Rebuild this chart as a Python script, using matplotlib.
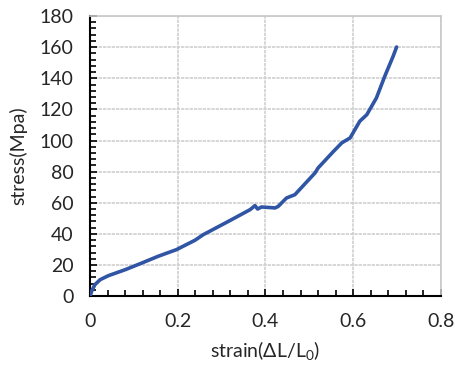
import matplotlib
matplotlib.use("Agg")
import matplotlib.pyplot as plt
from matplotlib.ticker import MultipleLocator

strain = [0.0, 0.004, 0.011, 0.023, 0.042, 0.08, 0.118, 0.155, 0.197, 0.239, 0.258, 0.315,
          0.365, 0.376, 0.382, 0.391, 0.422, 0.429, 0.448, 0.467, 0.513, 0.520,
          0.555, 0.574, 0.593, 0.615, 0.631, 0.653, 0.672, 0.691, 0.699]
stress = [0.0, 3.5, 7.4, 10.6, 13.2, 17.0, 21.3, 25.6, 29.9, 35.9, 39.5, 48.0,
          55.6, 58.2, 56.0, 57.3, 56.7, 57.7, 63.1, 65.2, 79.2, 82.4,
          93.0, 98.5, 101.7, 112.4, 116.6, 127.4, 141.3, 154.1, 160.1]

xticks = [0, 0.2, 0.4, 0.6, 0.8]
xticklabels = ["0", "0.2", "0.4", "0.6", "0.8"]
yticks = [0, 20, 40, 60, 80, 100, 120, 140, 160, 180]

plt.rcParams['font.family'] = ['Lato', 'DejaVu Sans']
plt.rcParams['mathtext.fontset'] = 'custom'
plt.rcParams['mathtext.rm'] = 'Lato'

fig = plt.figure(figsize=(4.55, 3.73), dpi=100)
ax = fig.add_axes([0.198, 0.206, 0.771, 0.751])

ax.plot(strain, stress, color='#2F55A4', lw=2.6, solid_capstyle='round', solid_joinstyle='round', zorder=3)

ax.set_xlim(0, 0.8)
ax.set_ylim(0, 180)
ax.set_xticks(xticks)
ax.set_xticklabels(xticklabels)
ax.set_yticks(yticks)
ax.xaxis.set_minor_locator(MultipleLocator(0.04))
ax.yaxis.set_minor_locator(MultipleLocator(4))

ax.grid(True, which='major', color='#cfcfcf', lw=1.2, linestyle=(0, (2, 0.6)))
ax.set_axisbelow(True)

for s in ['top', 'right']:
    ax.spines[s].set_color('#c8c8c8')
    ax.spines[s].set_linewidth(1.2)
for s in ['left', 'bottom']:
    ax.spines[s].set_color('black')
    ax.spines[s].set_linewidth(1.5)

ax.tick_params(axis='both', which='major', direction='in', length=5, width=1.2,
               labelsize=14, color='black', labelcolor='#262626')
ax.tick_params(axis='both', which='minor', direction='in', length=4, width=1.2, color='black')
ax.tick_params(axis='x', which='major', pad=12)
ax.tick_params(axis='y', which='major', pad=12)

ax.set_xlabel("strain(ΔL/L$_0$)", fontsize=14, color='#262626', labelpad=7)
ax.set_ylabel("stress(Mpa)", fontsize=14, color='#262626', labelpad=9)

fig.savefig("out.png", dpi=100)
